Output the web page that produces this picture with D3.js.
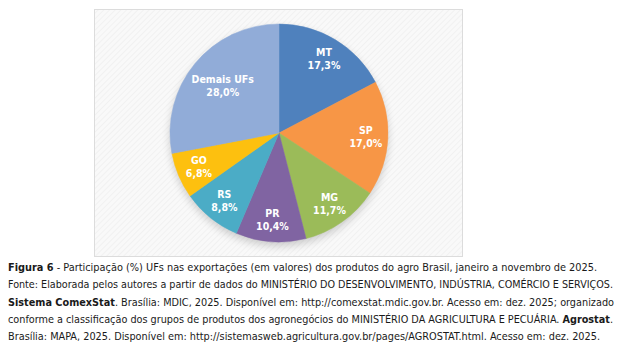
<!DOCTYPE html>
<html><head><meta charset="utf-8">
<script src="https://cdn.jsdelivr.net/npm/d3@7"></script>
<style>html,body{margin:0;padding:0;background:#fff;}svg{display:block;}</style>
</head><body>
<svg id="c" width="619" height="344"></svg>
<script>
const categories = ["MT", "SP", "MG", "PR", "RS", "GO", "Demais UFs"];
const values = [17.3, 17.0, 11.7, 10.4, 8.8, 6.8, 28.0];
const valueLabels = ["17,3%", "17,0%", "11,7%", "10,4%", "8,8%", "6,8%", "28,0%"];
const colors = ["#4f81bd", "#f79646", "#9bbb59", "#8064a2", "#4bacc6", "#fdc00f", "#91acd8"];
const captionLines = [
  [["Figura 6", true], [" - Participação (%) UFs nas exportações (em valores) dos produtos do agro Brasil, janeiro a novembro de 2025.", false]],
  [["Fonte: Elaborada pelos autores a partir de dados do MINISTÉRIO DO DESENVOLVIMENTO, INDÚSTRIA, COMÉRCIO E SERVIÇOS.", false]],
  [["Sistema ComexStat", true], [". Brasília: MDIC, 2025. Disponível em: http://comexstat.mdic.gov.br. Acesso em: dez. 2025; organizado", false]],
  [["conforme a classificação dos grupos de produtos dos agronegócios do MINISTÉRIO DA AGRICULTURA E PECUÁRIA. ", false], ["Agrostat", true], [".", false]],
  [["Brasília: MAPA, 2025. Disponível em: http://sistemasweb.agricultura.gov.br/pages/AGROSTAT.html. Acesso em: dez. 2025.", false]]
];
const captionWidths = [589, 605, 606, 605, 592];

const svg = d3.select("#c");
const defs = svg.append("defs");
const pat = defs.append("pattern").attr("id", "hatch").attr("patternUnits", "userSpaceOnUse")
  .attr("width", 4).attr("height", 4).attr("patternTransform", "rotate(45)");
pat.append("rect").attr("width", 4).attr("height", 4).attr("fill", "#f9f9f9");
pat.append("line").attr("x1", 0).attr("y1", 0).attr("x2", 0).attr("y2", 4).attr("stroke", "#efefef").attr("stroke-width", 1.5);
const blur = defs.append("filter").attr("id", "shadow").attr("x", "-20%").attr("y", "-20%").attr("width", "140%").attr("height", "140%");
blur.append("feGaussianBlur").attr("stdDeviation", 4);

// frame
svg.append("rect").attr("x", 94.5).attr("y", 9.5).attr("width", 368).attr("height", 247)
  .attr("fill", "url(#hatch)").attr("stroke", "#dcdcdc").attr("stroke-width", 1);

const cx = 279, cy = 133, r = 109;
const g = svg.append("g").attr("transform", `translate(${cx},${cy})`);

// shadow
g.append("circle").attr("cx", 0).attr("cy", 4).attr("r", r).attr("fill", "#000").attr("opacity", 0.18).attr("filter", "url(#shadow)");

const data = categories.map((c, i) => ({cat: c, value: values[i], label: valueLabels[i], color: colors[i]}));
const pie = d3.pie().value(d => d.value).sort(null);
const arc = d3.arc().innerRadius(0).outerRadius(r);
const arcs = pie(data);

g.selectAll("path.slice").data(arcs).join("path").attr("class", "slice")
  .attr("d", arc).attr("fill", d => d.data.color).attr("stroke", d => d.data.color).attr("stroke-width", 0.5);

const lr = d => d.data.cat === "Demais UFs" ? 73 : 87;
const lab = g.selectAll("g.lab").data(arcs).join("g").attr("class", "lab")
  .attr("transform", d => {
    const a = (d.startAngle + d.endAngle) / 2;
    return `translate(${Math.sin(a) * lr(d)},${-Math.cos(a) * lr(d)})`;
  });
lab.append("text").attr("y", -3).attr("text-anchor", "middle")
  .attr("font-family", "DejaVu Sans Condensed, DejaVu Sans").attr("font-weight", "bold").attr("font-size", 10.5)
  .attr("fill", "#fff").text(d => d.data.cat);
lab.append("text").attr("y", 10).attr("text-anchor", "middle")
  .attr("font-family", "DejaVu Sans Condensed, DejaVu Sans").attr("font-weight", "bold").attr("font-size", 10.5)
  .attr("fill", "#fff").text(d => d.data.label);

// caption
const cap = svg.append("g");
captionLines.forEach((line, i) => {
  const t = cap.append("text").attr("x", 8).attr("y", 271 + i * 17.3)
    .attr("font-family", "DejaVu Sans Condensed, DejaVu Sans").attr("font-size", 10.6).attr("fill", "#1a1a1a")
    .attr("textLength", captionWidths[i]).attr("lengthAdjust", "spacingAndGlyphs");
  line.forEach(([s, b]) => t.append("tspan").attr("font-weight", b ? "bold" : "normal").text(s));
});
</script>
</body></html>
